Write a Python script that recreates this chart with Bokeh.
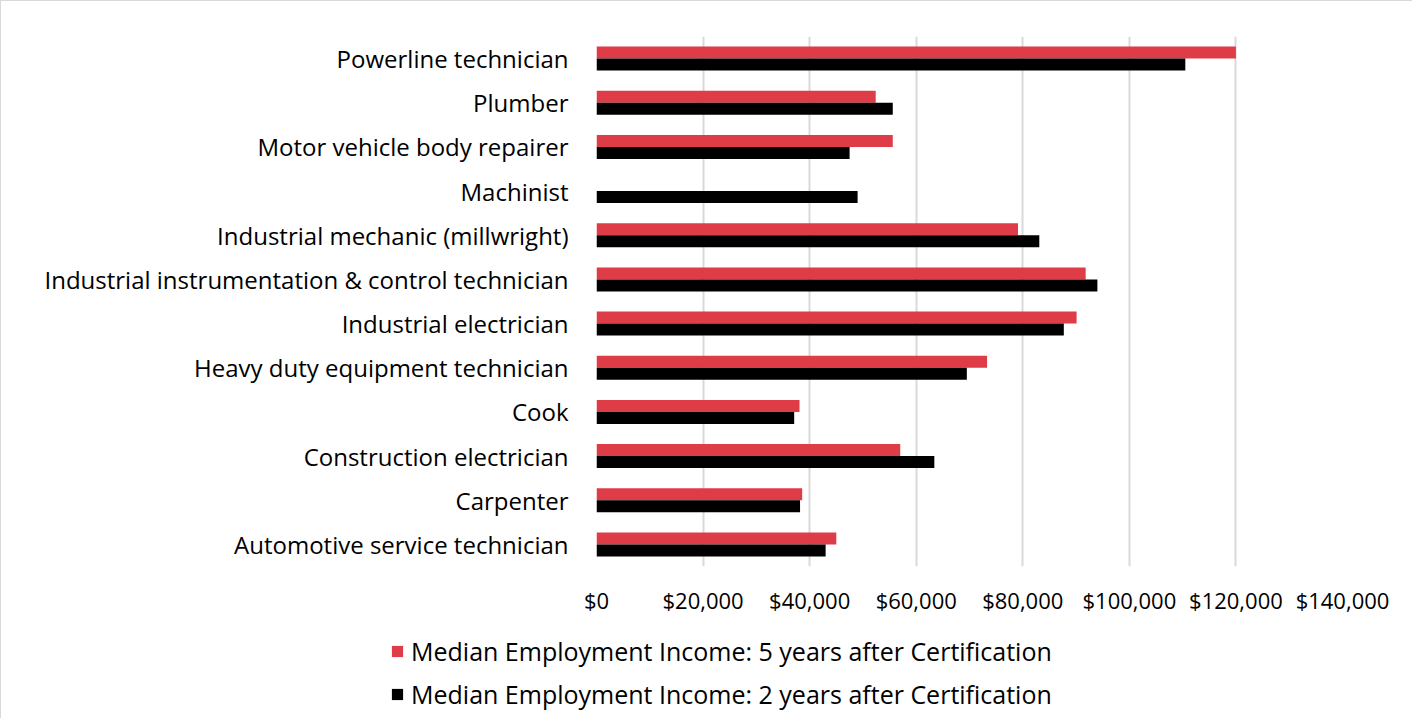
from bokeh.plotting import figure
from bokeh.layouts import column
from bokeh.models import ColumnDataSource, FixedTicker, NumeralTickFormatter, Range1d, Legend, LegendItem
from bokeh.transform import dodge
from bokeh.embed import file_html
from bokeh.resources import INLINE

categories = [
    "Automotive service technician",
    "Carpenter",
    "Construction electrician",
    "Cook",
    "Heavy duty equipment technician",
    "Industrial electrician",
    "Industrial instrumentation & control technician",
    "Industrial mechanic (millwright)",
    "Machinist",
    "Motor vehicle body repairer",
    "Plumber",
    "Powerline technician",
]
income_5yr = [45000, 38600, 57000, 38100, 73300, 90100, 91800, 79100, float("nan"), 55600, 52400, 120000]
income_2yr = [43000, 38200, 63400, 37100, 69500, 87700, 94000, 83100, 49000, 47500, 55600, 110500]
x_ticks = [0, 20000, 40000, 60000, 80000, 100000, 120000, 140000]
series_names = [
    "Median Employment Income: 5 years after Certification",
    "Median Employment Income: 2 years after Certification",
]

FONT = "Open Sans"
RED = "#de3c47"
BLACK = "#000000"

source = ColumnDataSource(dict(cat=categories, v5=income_5yr, v2=income_2yr))

p = figure(
    y_range=categories,
    x_range=Range1d(0, 140000),
    width=1412, height=620,
    output_backend="svg", toolbar_location=None,
    min_border_left=595, min_border_right=71,
    min_border_top=35, min_border_bottom=55,
)
p.styles = {"border-left": "1px solid #d9d9d9", "border-top": "1px solid #d9d9d9"}
p.frame_align = False

p.hbar(y=dodge("cat", 0.136, range=p.y_range), right="v5", left=0, height=0.272,
       source=source, fill_color=RED, line_color=None)
p.hbar(y=dodge("cat", -0.136, range=p.y_range), right="v2", left=0, height=0.272,
       source=source, fill_color=BLACK, line_color=None)

p.outline_line_color = None
p.ygrid.grid_line_color = None
p.xgrid.grid_line_color = "#d9d9d9"
p.xgrid.grid_line_width = 2
p.xaxis.ticker = FixedTicker(ticks=x_ticks)
p.xaxis.formatter = NumeralTickFormatter(format="$0,0")
for ax in (p.xaxis[0], p.yaxis[0]):
    ax.axis_line_color = None
    ax.major_tick_line_color = None
    ax.minor_tick_line_color = None
    ax.major_label_text_font = FONT
    ax.major_label_text_color = "#000000"
p.xaxis.major_label_text_font_size = "22px"
p.xaxis.major_label_standoff = 12
p.yaxis.major_label_text_font_size = "24px"
p.yaxis.major_label_standoff = 22

# legend panel (separate figure below the chart); its proxy renderers have
# zero size, so only the legend itself is seen
lg = figure(
    width=1412, height=98,
    x_range=Range1d(0, 1412), y_range=Range1d(0, 98),
    x_axis_location=None, y_axis_location=None,
    output_backend="svg", toolbar_location=None,
    min_border=0,
)
lg.frame_align = False
lg.styles = {"border-left": "1px solid #d9d9d9"}
lg.outline_line_color = None
lg.grid.visible = False
l5 = lg.hbar(y="v5", right="v5", left="v5", height=0, source=source,
             fill_color=RED, line_color=None)
l2 = lg.hbar(y="v2", right="v2", left="v2", height=0, source=source,
             fill_color=BLACK, line_color=None)

legend = Legend(
    items=[LegendItem(label=series_names[0], renderers=[l5]),
           LegendItem(label=series_names[1], renderers=[l2])],
    location=(389, 3),
    orientation="vertical",
    padding=0, margin=0, spacing=0,
    glyph_width=14, glyph_height=14, label_height=43, label_standoff=7,
    border_line_color=None, background_fill_alpha=0,
    label_text_font=FONT, label_text_font_size="25px", label_text_color="#000000",
)
lg.add_layout(legend)

layout = column(p, lg, spacing=0)
open("out.html", "w").write(file_html(layout, INLINE))
